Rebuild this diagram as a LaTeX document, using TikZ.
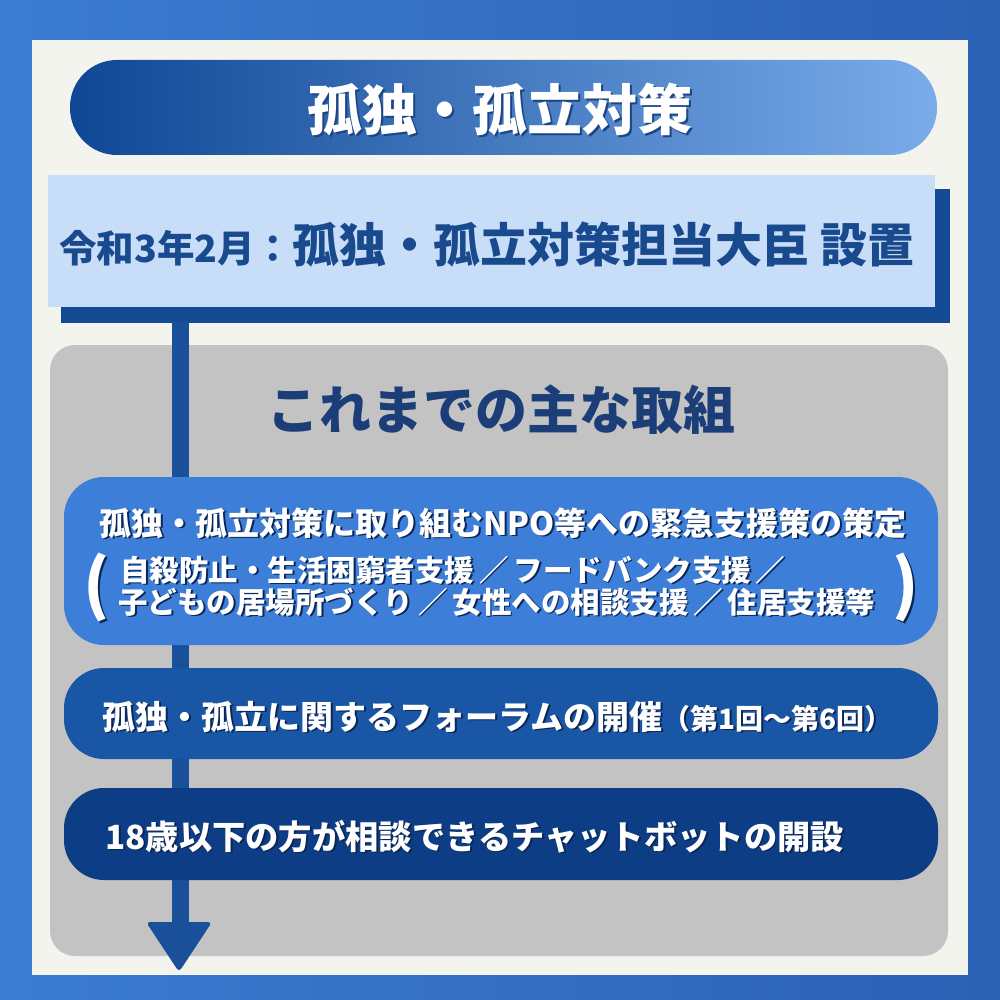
\documentclass[tikz,border=0pt]{standalone}
\usepackage{fontspec}
\setmainfont{Noto Sans CJK JP}
\usetikzlibrary{calc}
\definecolor{bgL}{HTML}{3B7CD1}
\definecolor{bgR}{HTML}{2C61B4}
\definecolor{panelc}{HTML}{F4F4EF}
\definecolor{pillL}{HTML}{0F4794}
\definecolor{pillM}{HTML}{3673CB}
\definecolor{pillR}{HTML}{7AACEA}
\definecolor{lightc}{HTML}{C7DDF8}
\definecolor{navy}{HTML}{124A94}
\definecolor{grayc}{HTML}{C3C3C3}
\definecolor{shaftc}{HTML}{1A4F9A}
\definecolor{boxa}{HTML}{3D7FD8}
\definecolor{boxb}{HTML}{1A56A6}
\definecolor{boxc}{HTML}{0D3D85}
\definecolor{textblue}{HTML}{1A4A8E}
\definecolor{headc}{HTML}{1B3D78}
\definecolor{shadowc}{HTML}{0A2656}
\tikzset{
  wtext/.style={text=white,font=\bfseries,inner sep=0pt},
  stext/.style={text=shadowc,font=\bfseries,inner sep=0pt},
  itembox/.style={rounded corners=40pt},
}
\newcommand\shtxt[4]{% name, position, anchor, content
  \node[stext,anchor=#3] at ($#2+(1.8,1.8)$) {#4};
  \node[wtext,anchor=#3] (#1) at #2 {#4};
}
\begin{document}
\begin{tikzpicture}[x=1pt,y=-1pt]
\useasboundingbox (0,0) rectangle (1000,1000);
% background
\shade[left color=bgL,right color=bgR] (0,0) rectangle (1000,1000);
\fill[panelc] (32,40) rectangle (968,975);
% title pill
\shade[left color=pillL,middle color=pillM,right color=pillR,rounded corners=47pt] (70,60) rectangle (937,155);
\node[anchor=base,text=shadowc!60!pillM,font=\bfseries\fontsize{55}{60}\selectfont,inner sep=0pt] at (501.5,132.5) {孤独・孤立対策};
\node[anchor=base,text=white,font=\bfseries\fontsize{55}{60}\selectfont,inner sep=0pt] (title) at (500,131) {孤独・孤立対策};
% light box with shadow
\fill[navy] (61,189) rectangle (950,323);
\fill[lightc] (48,175) rectangle (935,307);
\node[anchor=base west,text=textblue,inner sep=0pt,font=\bfseries] (minister) at (59,262)
  {{\fontsize{37.5}{40}\selectfont 令和3年2月：}{\fontsize{47}{54}\selectfont 孤独・孤立対策担当大臣 設置}};
% gray panel
\fill[grayc,rounded corners=25pt] (50,345) rectangle (948,956);
% shaft and arrowhead
\coordinate (shaftTop) at (180,322);
\coordinate (shaftEnd) at (180,928);
\draw[shaftc,line width=17pt] (shaftTop) -- (shaftEnd);
\fill[shaftc,rounded corners=4pt] (146,922) -- (212,922) -- (179,972) -- cycle;
\node[anchor=base,text=headc,inner sep=0pt,font=\bfseries\fontsize{52}{56}\selectfont] (heading) at (501,429) {これまでの主な取組};
% item boxes
\fill[boxa,itembox] (64,477) rectangle (938,645);
\fill[boxb,itembox] (64,668) rectangle (938,759);
\fill[boxc,itembox] (64,788) rectangle (938,880);
% box 1 text
\shtxt{l1}{(99,535)}{base west}{\fontsize{32}{34}\selectfont 孤独・孤立対策に取り組むNPO等への緊急支援策の策定}
\shtxt{l2}{(120,581)}{base west}{\fontsize{29.5}{30}\selectfont 自殺防止・生活困窮者支援\,／\,フードバンク支援\,／}
\shtxt{l3}{(118,613)}{base west}{\fontsize{29.5}{30}\selectfont 子どもの居場所づくり\,／\,女性への相談支援\,／\,住居支援等}
\shtxt{pl}{(97,588)}{center}{\fontsize{66}{70}\selectfont (}
\shtxt{pr}{(906,588)}{center}{\fontsize{66}{70}\selectfont )}
% box 2 text
\shtxt{forum}{(102,729)}{base west}{{\fontsize{33}{36}\selectfont 孤独・孤立に関するフォーラムの開催}{\fontsize{28}{30}\selectfont （第1回～第6回）}}
% box 3 text
\shtxt{chat}{(105,849)}{base west}{\fontsize{33.3}{36}\selectfont 18歳以下の方が相談できるチャットボットの開設}
\end{tikzpicture}
\end{document}
